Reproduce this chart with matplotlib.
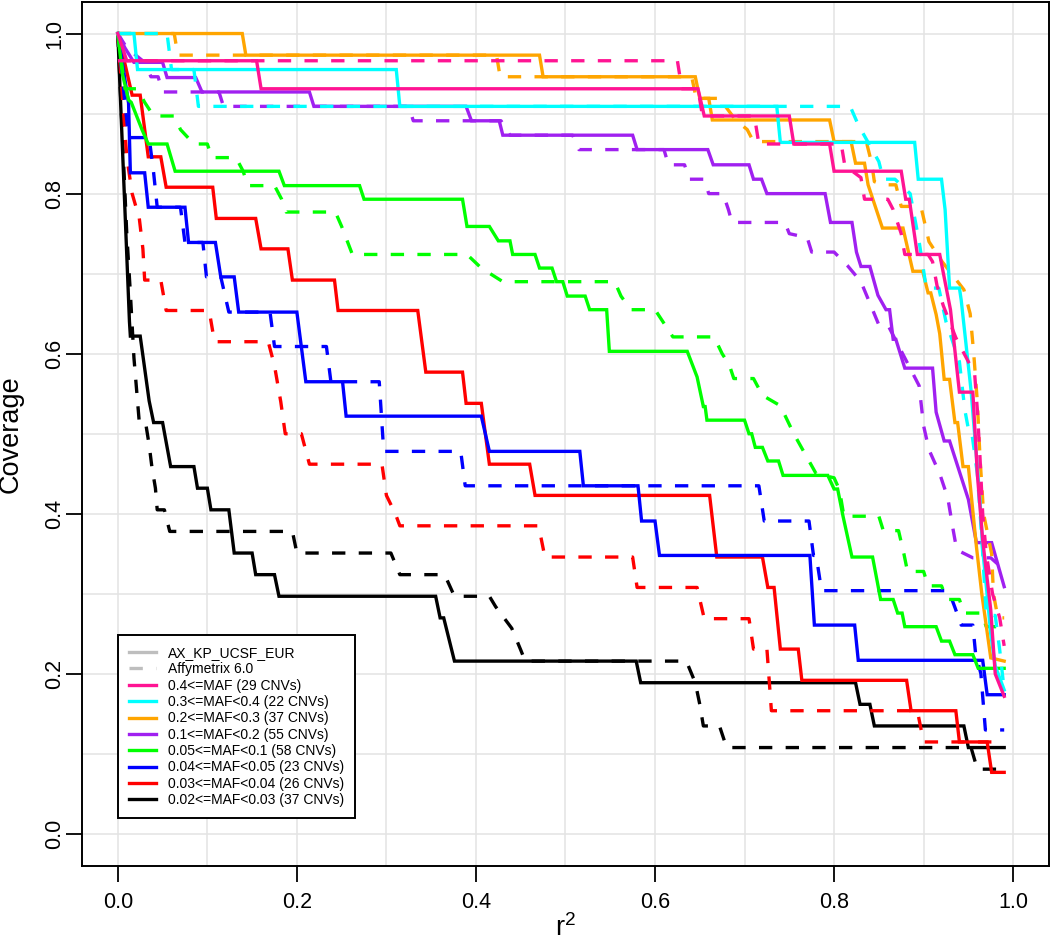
import numpy as np
import matplotlib
matplotlib.use('Agg')
import matplotlib.pyplot as plt
from matplotlib.lines import Line2D
from matplotlib.ticker import FormatStrFormatter

plt.rcParams['font.family'] = ['Liberation Sans', 'DejaVu Sans']

# legend entries for the MAF bins (same order as in the legend)
maf_labels = ['0.4<=MAF (29 CNVs)', '0.3<=MAF<0.4 (22 CNVs)', '0.2<=MAF<0.3 (37 CNVs)',
              '0.1<=MAF<0.2 (55 CNVs)', '0.05<=MAF<0.1 (58 CNVs)', '0.04<=MAF<0.05 (23 CNVs)',
              '0.03<=MAF<0.04 (26 CNVs)', '0.02<=MAF<0.03 (37 CNVs)']
maf_colors = ['#FF1493', '#00FFFF', '#FFA500', '#A020F0', '#00FF00', '#0000FF', '#FF0000', '#000000']
array_labels = ['AX_KP_UCSF_EUR', 'Affymetrix 6.0']

# coverage curves: vertices (r2 threshold, coverage)
# ax_* = AX_KP_UCSF_EUR (solid), affy_* = Affymetrix 6.0 (dashed)

# 0.4 <= MAF
ax40_x = [0, 0.01, 0.155, 0.16, 0.648, 0.655, 0.75, 0.755, 0.795, 0.80, 0.875, 0.88, 0.884, 0.893,
          0.918, 0.93, 0.94, 0.955, 0.96, 0.966, 0.975, 0.98, 0.99]
ax40_y = [1.0, 0.966, 0.966, 0.931, 0.931, 0.897, 0.897, 0.862, 0.862, 0.828, 0.828, 0.793, 0.793, 0.724,
          0.724, 0.655, 0.552, 0.552, 0.45, 0.367, 0.28, 0.2, 0.172]
affy40_x = [0, 0.625, 0.63, 0.648, 0.653, 0.711, 0.716, 0.808, 0.812, 0.83, 0.834, 0.86, 0.866, 0.875,
            0.879, 0.905, 0.91, 0.915, 0.922, 0.936, 0.957, 0.96, 0.963, 0.966, 0.97, 0.977, 0.985, 0.99]
affy40_y = [0.966, 0.966, 0.931, 0.931, 0.897, 0.897, 0.862, 0.862, 0.835, 0.82, 0.793, 0.793, 0.78, 0.75,
            0.724, 0.724, 0.715, 0.685, 0.66, 0.62, 0.575, 0.53, 0.47, 0.40, 0.35, 0.30, 0.27, 0.235]

# 0.3 <= MAF < 0.4
ax30_x = [0, 0.018, 0.022, 0.311, 0.315, 0.736, 0.74, 0.89, 0.894, 0.92, 0.924, 0.929, 0.94, 0.942,
          0.953, 0.963, 0.966, 0.97, 0.975, 0.98, 0.99]
ax30_y = [1.0, 1.0, 0.955, 0.955, 0.909, 0.909, 0.864, 0.864, 0.818, 0.818, 0.78, 0.682, 0.682, 0.667,
          0.554, 0.417, 0.355, 0.31, 0.25, 0.21, 0.18]
affy30_x = [0, 0.055, 0.06, 0.085, 0.09, 0.818, 0.827, 0.85, 0.855, 0.868, 0.885, 0.895, 0.903, 0.917,
            0.925, 0.94, 0.946, 0.951, 0.954, 0.96, 0.965, 0.97, 0.98, 0.985, 0.99]
affy30_y = [1.0, 1.0, 0.955, 0.955, 0.909, 0.909, 0.886, 0.84, 0.818, 0.818, 0.80, 0.74, 0.682, 0.682,
            0.64, 0.59, 0.53, 0.50, 0.50, 0.45, 0.37, 0.273, 0.273, 0.23, 0.18]

# 0.2 <= MAF < 0.3
ax20_x = [0, 0.139, 0.143, 0.471, 0.475, 0.645, 0.65, 0.66, 0.664, 0.795, 0.80, 0.819, 0.824, 0.834,
          0.838, 0.854, 0.877, 0.888, 0.899, 0.905, 0.908, 0.914, 0.918, 0.923, 0.929, 0.935, 0.938,
          0.944, 0.95, 0.959, 0.965, 0.975, 0.99]
ax20_y = [1.0, 1.0, 0.973, 0.973, 0.946, 0.946, 0.919, 0.919, 0.892, 0.892, 0.865, 0.865, 0.838, 0.838,
          0.811, 0.757, 0.757, 0.703, 0.703, 0.676, 0.676, 0.649, 0.625, 0.568, 0.568, 0.514, 0.514,
          0.459, 0.459, 0.359, 0.30, 0.22, 0.216]
affy20_x = [0, 0.063, 0.067, 0.423, 0.427, 0.641, 0.646, 0.672, 0.69, 0.703, 0.71, 0.836, 0.842, 0.845,
            0.855, 0.869, 0.875, 0.897, 0.906, 0.92, 0.945, 0.952, 0.956, 0.96, 0.963, 0.967, 0.976,
            0.978, 0.983, 0.99]
affy20_y = [1.0, 1.0, 0.973, 0.973, 0.946, 0.946, 0.919, 0.919, 0.892, 0.88, 0.865, 0.865, 0.838, 0.815,
            0.811, 0.811, 0.784, 0.784, 0.74, 0.716, 0.68, 0.65, 0.60, 0.54, 0.47, 0.40, 0.35,
            0.30, 0.27, 0.27]

# 0.1 <= MAF < 0.2
ax10_x = [0, 0.008, 0.018, 0.05, 0.055, 0.087, 0.094, 0.214, 0.219, 0.389, 0.395, 0.426, 0.43, 0.575,
          0.58, 0.659, 0.665, 0.705, 0.71, 0.719, 0.725, 0.79, 0.796, 0.82, 0.825, 0.83, 0.84, 0.849,
          0.858, 0.862, 0.866, 0.869, 0.879, 0.91, 0.914, 0.923, 0.929, 0.95, 0.959, 0.976, 0.99]
ax10_y = [1.0, 0.982, 0.964, 0.964, 0.945, 0.945, 0.927, 0.927, 0.909, 0.909, 0.891, 0.891, 0.873, 0.873,
          0.855, 0.855, 0.836, 0.836, 0.818, 0.818, 0.80, 0.80, 0.764, 0.764, 0.727, 0.709, 0.709, 0.673,
          0.655, 0.655, 0.618, 0.618, 0.582, 0.582, 0.527, 0.491, 0.491, 0.418, 0.364, 0.364, 0.309]
affy10_x = [0, 0.01, 0.03, 0.037, 0.045, 0.05, 0.113, 0.118, 0.325, 0.33, 0.428, 0.438, 0.508, 0.515,
            0.61, 0.615, 0.633, 0.638, 0.655, 0.66, 0.676, 0.682, 0.686, 0.745, 0.75, 0.77, 0.775,
            0.80, 0.815, 0.83, 0.843, 0.85, 0.86, 0.895, 0.90, 0.906, 0.918, 0.927, 0.933, 0.937,
            0.955, 0.975, 0.99]
affy10_y = [1.0, 0.982, 0.964, 0.946, 0.946, 0.927, 0.927, 0.909, 0.909, 0.891, 0.891, 0.873, 0.873, 0.855,
            0.855, 0.836, 0.836, 0.818, 0.818, 0.80, 0.80, 0.78, 0.764, 0.764, 0.75, 0.745, 0.727,
            0.727, 0.71, 0.69, 0.655, 0.636, 0.636, 0.56, 0.51, 0.48, 0.45, 0.42, 0.38, 0.355,
            0.345, 0.345, 0.33]

# 0.05 <= MAF < 0.1
ax05_x = [0, 0.005, 0.012, 0.015, 0.027, 0.034, 0.055, 0.064, 0.18, 0.186, 0.27, 0.275, 0.385, 0.39,
          0.415, 0.425, 0.438, 0.441, 0.466, 0.471, 0.485, 0.49, 0.497, 0.502, 0.522, 0.527, 0.546,
          0.549, 0.636, 0.647, 0.654, 0.656, 0.658, 0.70, 0.705, 0.708, 0.712, 0.72, 0.726, 0.738,
          0.743, 0.793, 0.80, 0.804, 0.81, 0.82, 0.843, 0.852, 0.866, 0.871, 0.876, 0.879, 0.914,
          0.92, 0.929, 0.935, 0.955, 0.961, 0.99]
ax05_y = [1.0, 0.95, 0.917, 0.914, 0.88, 0.862, 0.862, 0.828, 0.828, 0.81, 0.81, 0.793, 0.793, 0.759,
          0.759, 0.741, 0.741, 0.724, 0.724, 0.707, 0.707, 0.69, 0.69, 0.672, 0.672, 0.655, 0.655,
          0.603, 0.603, 0.571, 0.534, 0.534, 0.517, 0.517, 0.50, 0.50, 0.483, 0.483, 0.466, 0.466,
          0.448, 0.448, 0.431, 0.431, 0.397, 0.346, 0.346, 0.293, 0.293, 0.276, 0.276, 0.259, 0.259,
          0.241, 0.241, 0.224, 0.224, 0.207, 0.207]
affy05_x = [0, 0.008, 0.022, 0.03, 0.04, 0.063, 0.07, 0.085, 0.1, 0.105, 0.132, 0.14, 0.145, 0.175,
            0.183, 0.188, 0.243, 0.25, 0.262, 0.39, 0.406, 0.43, 0.555, 0.562, 0.573, 0.60, 0.61,
            0.62, 0.666, 0.675, 0.683, 0.688, 0.71, 0.72, 0.74, 0.755, 0.77, 0.78, 0.80, 0.806,
            0.811, 0.85, 0.855, 0.872, 0.878, 0.882, 0.90, 0.905, 0.92, 0.926, 0.94, 0.945, 0.965,
            0.97, 0.99]
affy05_y = [1.0, 0.931, 0.931, 0.914, 0.897, 0.897, 0.88, 0.862, 0.862, 0.845, 0.845, 0.828, 0.81, 0.81,
            0.793, 0.777, 0.777, 0.759, 0.724, 0.724, 0.707, 0.69, 0.69, 0.672, 0.655, 0.655, 0.638,
            0.621, 0.621, 0.60, 0.586, 0.569, 0.569, 0.548, 0.535, 0.50, 0.47, 0.45, 0.445, 0.43,
            0.397, 0.397, 0.379, 0.379, 0.35, 0.328, 0.328, 0.31, 0.31, 0.293, 0.293, 0.276, 0.276,
            0.259, 0.259]

# 0.04 <= MAF < 0.05
ax04_x = [0, 0.012, 0.014, 0.03, 0.034, 0.075, 0.079, 0.109, 0.115, 0.13, 0.135, 0.2, 0.21, 0.251,
          0.255, 0.406, 0.415, 0.516, 0.52, 0.581, 0.585, 0.60, 0.605, 0.773, 0.778, 0.823, 0.827,
          0.966, 0.971, 0.99]
ax04_y = [1.0, 0.913, 0.826, 0.826, 0.783, 0.783, 0.739, 0.739, 0.696, 0.696, 0.652, 0.652, 0.565, 0.565,
          0.522, 0.522, 0.478, 0.478, 0.435, 0.435, 0.391, 0.391, 0.348, 0.348, 0.261, 0.261, 0.217,
          0.217, 0.174, 0.174]
affy04_x = [0, 0.008, 0.012, 0.035, 0.04, 0.044, 0.07, 0.075, 0.095, 0.099, 0.115, 0.124, 0.17, 0.175,
            0.233, 0.238, 0.292, 0.297, 0.383, 0.388, 0.716, 0.722, 0.772, 0.777, 0.78, 0.786, 0.928,
            0.935, 0.942, 0.955, 0.958, 0.964, 0.969, 0.99]
affy04_y = [1.0, 0.913, 0.87, 0.87, 0.826, 0.783, 0.783, 0.739, 0.739, 0.696, 0.696, 0.652, 0.652, 0.609,
            0.609, 0.565, 0.565, 0.478, 0.478, 0.435, 0.435, 0.391, 0.391, 0.348, 0.348, 0.304, 0.304,
            0.283, 0.261, 0.261, 0.226, 0.2, 0.13, 0.13]

# 0.03 <= MAF < 0.04
ax03_x = [0, 0.008, 0.016, 0.025, 0.034, 0.048, 0.054, 0.106, 0.11, 0.154, 0.16, 0.19, 0.195, 0.242,
          0.246, 0.335, 0.344, 0.385, 0.389, 0.406, 0.415, 0.46, 0.466, 0.661, 0.669, 0.72, 0.726,
          0.733, 0.74, 0.76, 0.764, 0.881, 0.886, 0.936, 0.94, 0.971, 0.976, 0.99]
ax03_y = [1.0, 0.962, 0.923, 0.923, 0.846, 0.846, 0.808, 0.808, 0.769, 0.769, 0.731, 0.731, 0.692, 0.692,
          0.654, 0.654, 0.577, 0.577, 0.538, 0.538, 0.462, 0.462, 0.423, 0.423, 0.346, 0.346, 0.308,
          0.308, 0.231, 0.231, 0.192, 0.192, 0.154, 0.154, 0.115, 0.115, 0.077, 0.077]
affy03_x = [0, 0.005, 0.01, 0.016, 0.024, 0.028, 0.03, 0.048, 0.054, 0.102, 0.108, 0.168, 0.175, 0.182,
            0.187, 0.205, 0.214, 0.295, 0.30, 0.31, 0.315, 0.47, 0.477, 0.575, 0.58, 0.647, 0.655,
            0.705, 0.71, 0.725, 0.73, 0.893, 0.90, 0.99]
affy03_y = [1.0, 0.923, 0.846, 0.80, 0.769, 0.731, 0.692, 0.692, 0.654, 0.654, 0.615, 0.615, 0.585, 0.54,
            0.50, 0.50, 0.462, 0.462, 0.423, 0.40, 0.385, 0.385, 0.346, 0.346, 0.308, 0.308, 0.269,
            0.269, 0.231, 0.231, 0.154, 0.154, 0.115, 0.115]

# 0.02 <= MAF < 0.03
ax02_x = [0, 0.013, 0.014, 0.025, 0.035, 0.04, 0.05, 0.059, 0.085, 0.089, 0.10, 0.104, 0.124, 0.13,
          0.15, 0.154, 0.175, 0.18, 0.355, 0.36, 0.364, 0.376, 0.579, 0.584, 0.824, 0.829, 0.84,
          0.845, 0.945, 0.95, 0.99]
ax02_y = [1.0, 0.64, 0.622, 0.622, 0.541, 0.514, 0.514, 0.459, 0.459, 0.432, 0.432, 0.405, 0.405, 0.351,
          0.351, 0.324, 0.324, 0.297, 0.297, 0.27, 0.27, 0.216, 0.216, 0.189, 0.189, 0.162, 0.162,
          0.135, 0.135, 0.108, 0.108]
affy02_x = [0, 0.01, 0.014, 0.018, 0.022, 0.024, 0.031, 0.035, 0.038, 0.042, 0.044, 0.052, 0.058, 0.195,
            0.20, 0.305, 0.315, 0.365, 0.376, 0.415, 0.422, 0.44, 0.45, 0.455, 0.635, 0.645, 0.65,
            0.654, 0.672, 0.68, 0.953, 0.96, 0.99]
affy02_y = [1.0, 0.75, 0.676, 0.595, 0.541, 0.514, 0.514, 0.486, 0.459, 0.432, 0.405, 0.405, 0.378, 0.378,
            0.351, 0.351, 0.324, 0.324, 0.297, 0.297, 0.284, 0.257, 0.23, 0.216, 0.216, 0.189, 0.162,
            0.135, 0.135, 0.108, 0.108, 0.081, 0.081]

ax_curves = [(ax40_x, ax40_y), (ax30_x, ax30_y), (ax20_x, ax20_y), (ax10_x, ax10_y),
             (ax05_x, ax05_y), (ax04_x, ax04_y), (ax03_x, ax03_y), (ax02_x, ax02_y)]
affy_curves = [(affy40_x, affy40_y), (affy30_x, affy30_y), (affy20_x, affy20_y), (affy10_x, affy10_y),
               (affy05_x, affy05_y), (affy04_x, affy04_y), (affy03_x, affy03_y), (affy02_x, affy02_y)]

lw = 2.4
dashed = (0, (4, 4))

fig = plt.figure(figsize=(10.5, 9.44), dpi=100)
ax = fig.add_axes([0.0781, 0.0826, 0.9209, 0.9158])

# light grid every 0.1
ax.set_xticks(np.arange(0, 1.01, 0.1), minor=True)
ax.set_yticks(np.arange(0, 1.01, 0.1), minor=True)
ax.grid(which='both', color='#E3E3E3', linewidth=1.1)
ax.set_axisbelow(True)

# low MAF first so the high MAF bins end up on top
for i in reversed(range(len(maf_colors))):
    ax.plot(affy_curves[i][0], affy_curves[i][1], color=maf_colors[i], lw=lw, linestyle=dashed)
    ax.plot(ax_curves[i][0], ax_curves[i][1], color=maf_colors[i], lw=lw, solid_joinstyle='miter')

ax.set_xlim(-0.04, 1.04)
ax.set_ylim(-0.04, 1.04)
ax.set_xticks(np.arange(0, 1.01, 0.2))
ax.set_yticks(np.arange(0, 1.01, 0.2))
ax.xaxis.set_major_formatter(FormatStrFormatter('%.1f'))
ax.yaxis.set_major_formatter(FormatStrFormatter('%.1f'))
ax.tick_params(which='major', length=11.5, width=1.3, labelsize=15.5, color='black')
ax.tick_params(axis='x', pad=7)
ax.tick_params(axis='y', pad=0.5)
ax.tick_params(which='minor', length=0)
for lab in ax.get_yticklabels():
    lab.set_rotation(90)
    lab.set_va('center')

for sp in ax.spines.values():
    sp.set_linewidth(1.4)
    sp.set_color('black')

ax.set_xlabel(r'$\mathregular{r^2}$', fontsize=19.5)
ax.set_ylabel('Coverage', fontsize=19.5)
ax.xaxis.set_label_coords(0.5, -0.056)
ax.yaxis.set_label_coords(-0.06, 0.5)

# legend: the two arrays in grey, then the MAF bins
handles = [Line2D([], [], color='#BEBEBE', lw=lw),
           Line2D([], [], color='#BEBEBE', lw=lw, linestyle=dashed)]
handles += [Line2D([], [], color=c, lw=lw) for c in maf_colors]
leg = ax.legend(handles, array_labels + maf_labels, loc='lower left', bbox_to_anchor=(0.0368, 0.0552),
                borderaxespad=0, fontsize=10, fancybox=False, edgecolor='black', framealpha=1,
                labelspacing=0.17, handlelength=2.0, handletextpad=0.8, borderpad=0.8)
leg.get_frame().set_linewidth(1.4)

fig.savefig('out.png', dpi=100)
